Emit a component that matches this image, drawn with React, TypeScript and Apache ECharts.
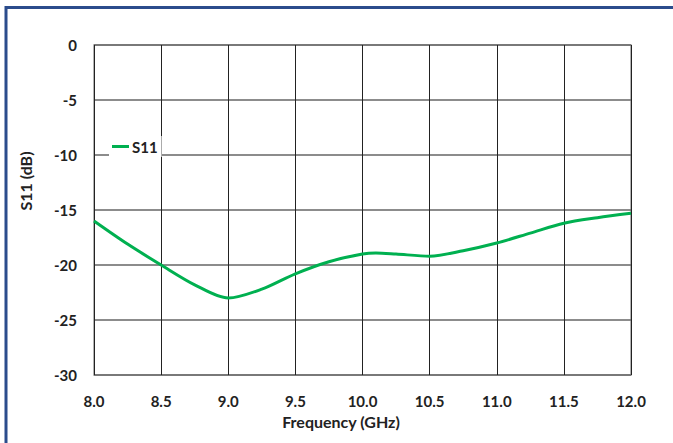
import React, { useEffect, useRef } from "react";
import * as echarts from "echarts";

const freqGHz = [8.0, 8.25, 8.5, 8.75, 9.0, 9.25, 9.5, 9.75, 10.0, 10.1, 10.25, 10.5, 10.75, 11.0, 11.25, 11.5, 11.75, 12.0];
const s11dB = [-16.0, -18.1, -20.0, -21.8, -23.0, -22.2, -20.8, -19.7, -19.0, -18.9, -19.0, -19.2, -18.7, -18.0, -17.1, -16.2, -15.7, -15.3];
const seriesName = "S11";
const xTitle = "Frequency (GHz)";
const yTitle = "S11 (dB)";

const FONT = "Lato, 'Open Sans', sans-serif";

export default function App() {
  const ref = useRef<HTMLDivElement>(null);
  useEffect(() => {
    document.body.style.margin = "0";
    const chart = echarts.init(ref.current!, null, { renderer: "svg" });
    chart.setOption({
      animation: false,
      backgroundColor: "#fff",
      grid: {
        left: 94,
        top: 45,
        width: 537,
        height: 330,
        show: true,
        borderColor: "#999",
        borderWidth: 1.5,
        backgroundColor: "transparent",
      },
      legend: {
        data: [seriesName],
        left: 109,
        top: 136,
        icon: "rect",
        itemWidth: 17,
        itemHeight: 3,
        itemGap: 4,
        padding: [3, 4, 3, 3],
        backgroundColor: "#fff",
        textStyle: { fontFamily: FONT, fontWeight: "bold", fontSize: 15, color: "#222", padding: [0, 0, 0, -2] },
      },
      xAxis: {
        type: "value",
        min: 8,
        max: 12,
        interval: 0.5,
        axisLine: { show: false },
        axisTick: { show: false },
        axisLabel: {
          margin: 18,
          fontFamily: FONT,
          fontWeight: "bold",
          fontSize: 15,
          color: "#222",
          formatter: (v: number) => v.toFixed(1),
        },
        splitLine: { show: true, lineStyle: { color: "#222", width: 1 } },
      },
      yAxis: {
        type: "value",
        min: -30,
        max: 0,
        interval: 5,
        axisLine: { show: false },
        axisTick: { show: false },
        axisLabel: {
          margin: 17,
          fontFamily: FONT,
          fontWeight: "bold",
          fontSize: 15,
          color: "#222",
        },
        splitLine: { show: true, lineStyle: { color: "#666", width: 1.5 } },
      },
      series: [
        {
          name: seriesName,
          type: "line",
          data: freqGHz.map((f, i) => [f, s11dB[i]]),
          smooth: 0.3,
          showSymbol: false,
          symbol: "none",
          lineStyle: { color: "#00B050", width: 3 },
          itemStyle: { color: "#00B050" },
          z: 3,
        },
      ],
      graphic: [
        {
          type: "rect",
          shape: { x: 6, y: 7.5, width: 720, height: 500 },
          style: { fill: "none", stroke: "#2B4C8C", lineWidth: 3 },
          z: 100,
        },
        {
          type: "text",
          x: 341,
          y: 421,
          style: {
            text: xTitle,
            fontFamily: FONT,
            fontWeight: "bold",
            fontSize: 16,
            fill: "#222",
            align: "center",
            verticalAlign: "middle",
          },
        },
        {
          type: "text",
          x: 25,
          y: 181,
          rotation: Math.PI / 2,
          style: {
            text: yTitle,
            fontFamily: FONT,
            fontWeight: "bold",
            fontSize: 16,
            fill: "#222",
            align: "center",
            verticalAlign: "middle",
          },
        },
      ],
    });
    return () => chart.dispose();
  }, []);
  return <div ref={ref} style={{ position: "fixed", left: 0, top: 0, width: 673, height: 443 }} />;
}
